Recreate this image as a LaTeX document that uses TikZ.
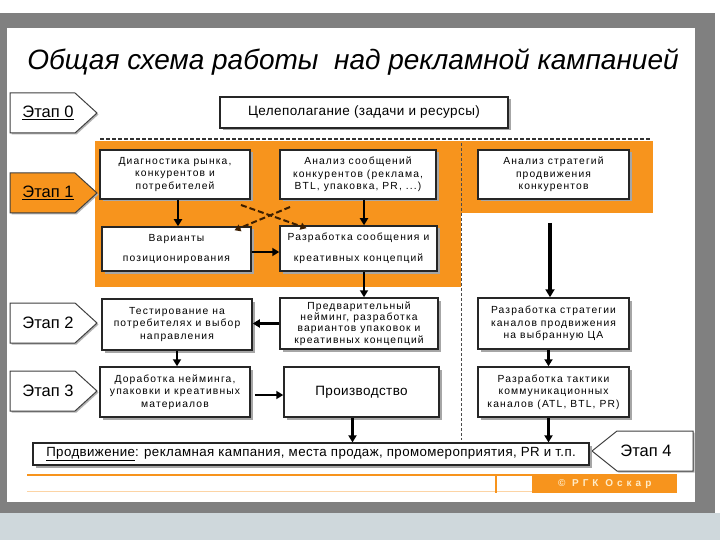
\documentclass[tikz,border=0pt]{standalone}
\usepackage{fontspec}
\setmainfont{Liberation Sans}
\newfontfamily\boxfont[LetterSpace=11]{Liberation Sans}
\newfontfamily\midfont[LetterSpace=3]{Liberation Sans}
\newfontfamily\footfont[LetterSpace=40]{Liberation Sans}
\usetikzlibrary{arrows.meta,shadows}
\definecolor{org}{RGB}{247,148,29}
\definecolor{framegray}{RGB}{128,128,128}
\definecolor{bottombg}{RGB}{207,216,220}
\definecolor{dashc}{RGB}{60,30,0}
\definecolor{cream}{RGB}{255,236,200}
\begin{document}
\begin{tikzpicture}[x=1pt,y=-1pt,
  box/.style={draw=black!85, line width=1.5pt, fill=white, align=center, inner sep=1pt,
    font=\boxfont\fontsize{10.3}{12.5}\selectfont,
    drop shadow={opacity=1, fill=black!35, shadow xshift=2.5pt, shadow yshift=-2.5pt}},
  arr/.style={line width=2.2pt, -{Triangle[length=7pt,width=8pt]}},
  dasharr/.style={draw=dashc, line width=2pt, dash pattern=on 6pt off 3pt, -{Triangle[length=6pt,width=7pt]}},
  etap/.style={draw=black!75, line width=1pt, fill=white,
    drop shadow={opacity=1, fill=black!30, shadow xshift=1.5pt, shadow yshift=-1.5pt}},
  etaplabel/.style={font=\fontsize{16.5}{18}\selectfont, inner sep=0pt}
]
\useasboundingbox (0,0) rectangle (720,540);
% frame
\fill[white] (0,0) rectangle (720,540);
\fill[framegray] (0,13) rectangle (715,513);
\fill[white] (7,28) rectangle (695,502);
\fill[bottombg] (0,513) rectangle (720,540);
% title
\node[font=\itshape\fontsize{28}{30}\selectfont, inner sep=0pt] (title) at (353,62) {Общая схема работы \ над рекламной кампанией};
% orange regions
\fill[org] (95,141) rectangle (461,287);
\fill[org] (461,141) rectangle (653,213);
\draw[black!80, line width=2pt, dash pattern=on 4pt off 2pt] (100,139) -- (650,139);
\draw[black!70, line width=0.7pt, dash pattern=on 3pt off 2pt] (461,143) -- (461,440);
% stage markers
\draw[etap] (10,93) -- (75,93) -- (97,113) -- (75,133) -- (10,133) -- cycle;
\draw[etap, fill=org] (10,173) -- (75,173) -- (97,193) -- (75,213) -- (10,213) -- cycle;
\draw[etap] (10,303) -- (75,303) -- (97,323) -- (75,343) -- (10,343) -- cycle;
\draw[etap] (10,371) -- (75,371) -- (97,391) -- (75,411) -- (10,411) -- cycle;
\draw[etap] (693,431) -- (617,431) -- (592,451) -- (617,471) -- (693,471) -- cycle;
\node[etaplabel] (e0) at (48,113) {\underline{Этап 0}};
\node[etaplabel] (e1) at (48,193) {\underline{Этап 1}};
\node[etaplabel] (e2) at (48,323) {Этап 2};
\node[etaplabel] (e3) at (48,391) {Этап 3};
\node[etaplabel] (e4) at (646,451) {Этап 4};
% boxes
\node[box, minimum width=288pt, minimum height=31pt, font=\midfont\fontsize{13.5}{15}\selectfont] (goal) at (364,112.5) {Целеполагание (задачи и ресурсы)};
\node[box, minimum width=150pt, minimum height=49pt] (diag) at (175,174.5) {Диагностика рынка,\\конкурентов и\\потребителей};
\node[box, minimum width=156pt, minimum height=49pt] (anmsg) at (358,174.5) {Анализ сообщений\\конкурентов (реклама,\\BTL, упаковка, PR, ...)};
\node[box, minimum width=151pt, minimum height=49pt] (anstr) at (553.5,174.5) {Анализ стратегий\\продвижения\\конкурентов};
\node[box, minimum width=149pt, minimum height=44pt] (var) at (176.5,249) {Варианты\\[8pt]позиционирования};
\node[box, minimum width=157pt, minimum height=45pt] (razr) at (358.5,248.5) {Разработка сообщения и\\[8pt]креативных концепций};
\node[box, minimum width=150pt, minimum height=51pt] (test) at (177,324.5) {Тестирование на\\потребителях и выбор\\направления};
\node[box, minimum width=158pt, minimum height=51pt, font=\boxfont\fontsize{10.3}{11.3}\selectfont] (pred) at (359,323.5) {Предварительный\\нейминг, разработка\\вариантов упаковок и\\креативных концепций};
\node[box, minimum width=150pt, minimum height=50pt] (dor) at (175,392) {Доработка нейминга,\\упаковки и креативных\\материалов};
\node[box, minimum width=155pt, minimum height=50pt, font=\midfont\fontsize{13.5}{15}\selectfont] (prod) at (361.5,392) {Производство};
\node[box, minimum width=151pt, minimum height=51pt] (strat) at (553.5,323.5) {Разработка стратегии\\каналов продвижения\\на выбранную ЦА};
\node[box, minimum width=151pt, minimum height=50pt] (takt) at (553.5,392) {Разработка тактики\\коммуникационных\\каналов (ATL, BTL, PR)};
\node[box, line width=1.2pt, minimum width=556pt, minimum height=22pt, font=\midfont\fontsize{13.3}{15}\selectfont] (bar) at (311,454) {\underline{Продвижение}: рекламная кампания, места продаж, промомероприятия, PR и т.п.};
% connectors
\draw[arr] ([xshift=3pt]diag.south) -- ([xshift=1.5pt]var.north);
\draw[arr] ([xshift=6pt]anmsg.south) -- ([xshift=5.5pt]razr.north);
\draw[arr] ([yshift=-3pt]var.east) -- ([yshift=-3pt]var.east -| razr.west);
\coordinate (d1) at (241,205);
\coordinate (d2) at (290,207);
\draw[dasharr] (d1) -- ([xshift=-52pt,yshift=-3pt]razr.north);
\draw[dasharr] (d2) -- ([xshift=58pt,yshift=-4pt]var.north);
\draw[arr] ([xshift=5.5pt]razr.south) -- ([xshift=5pt]pred.north);
\draw[arr] (pred.west) -- (pred.west -| test.east);
\draw[arr] (test.south) -- ([xshift=2pt]dor.north);
\draw[arr] ([xshift=4pt,yshift=-3pt]dor.east) -- ([yshift=-3pt]prod.west);
\draw[arr] ([xshift=-9pt]prod.south) -- ([xshift=-9pt]prod.south |- bar.north);
\coordinate (s1) at (550,223);
\draw[line width=3.5pt, -{Triangle[length=8pt,width=9pt]}] (s1) -- (s1 |- strat.north);
\draw[arr] ([xshift=-5pt]strat.south) -- ([xshift=-5pt]takt.north);
\draw[arr] ([xshift=-5pt]takt.south) -- ([xshift=-5pt]takt.south |- bar.north);
% footer
\draw[org, line width=2.5pt] (27,475) -- (677,475);
\draw[org!40, line width=1pt] (27,491) -- (532,491);
\draw[org, line width=2pt] (496,475) -- (496,493);
\node[fill=org, minimum width=145pt, minimum height=18pt, anchor=north west, inner sep=0pt, text=cream, font=\footfont\bfseries\fontsize{10}{11}\selectfont] (copy) at (532,475) {© РГК Оскар};
\end{tikzpicture}
\end{document}
